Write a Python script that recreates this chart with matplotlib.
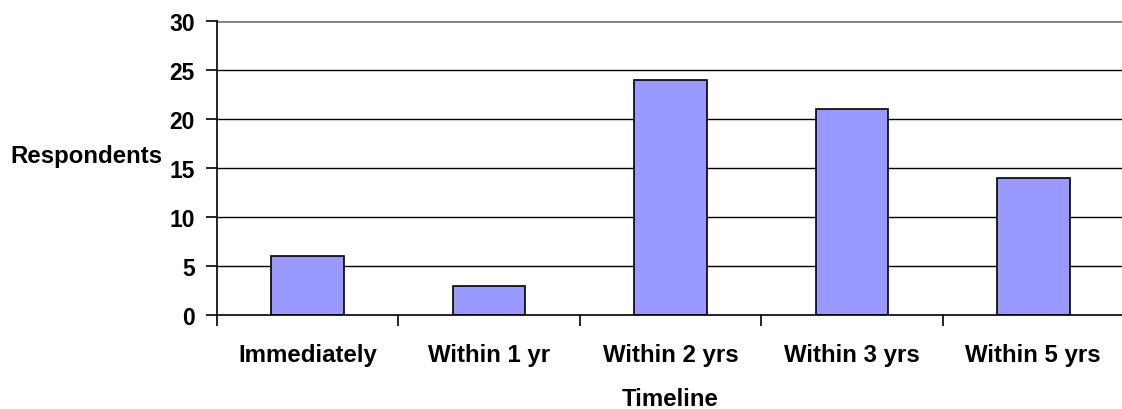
import matplotlib
matplotlib.use("Agg")
import matplotlib.pyplot as plt
from matplotlib.ticker import FixedLocator

categories = ["Immediately", "Within 1 yr", "Within 2 yrs", "Within 3 yrs", "Within 5 yrs"]
respondents = [6, 3, 24, 21, 14]
y_ticks = [0, 5, 10, 15, 20, 25, 30]

plt.rcParams["font.family"] = ["Liberation Sans", "DejaVu Sans"]
plt.rcParams["font.weight"] = "bold"
FS = 17.3
FS_Y = 16.5

W, H = 1122, 410
fig = plt.figure(figsize=(W / 100, H / 100), dpi=100)
left, right, top, bottom = 217, 1124, 22, 316
ax = fig.add_axes([left / W, (H - bottom) / H, (right - left) / W, (bottom - top) / H])

x = list(range(len(categories)))

# horizontal gridlines
for v in y_ticks[1:]:
    color = "#808080" if v == y_ticks[-1] else "black"
    lw = 2.0 if v == y_ticks[-1] else 1.0
    ax.axhline(v, color=color, lw=lw, zorder=1)

ax.bar(x, respondents, width=0.4, color="#9999FF", edgecolor="black", linewidth=1.2, zorder=2)

ax.set_xlim(-0.5, len(categories) - 0.5)
ax.set_ylim(0, 30)

for side in ("top", "right"):
    ax.spines[side].set_visible(False)
for side in ("left", "bottom"):
    ax.spines[side].set_color("black")
    ax.spines[side].set_linewidth(1.2)

ax.set_yticks(y_ticks)
ax.set_yticklabels([str(v) for v in y_ticks], fontsize=FS_Y, fontweight="bold")
ax.tick_params(axis="y", length=8, width=1.2, pad=8, direction="out")

ax.set_xticks(x)
ax.set_xticklabels(categories, fontsize=FS, fontweight="bold")
ax.tick_params(axis="x", which="major", length=0, pad=20)
ax.xaxis.set_minor_locator(FixedLocator([i - 0.5 for i in range(len(categories))]))
ax.tick_params(axis="x", which="minor", length=8, width=1.2, direction="out")

ax.set_xlabel("Timeline", fontsize=FS, fontweight="bold", labelpad=15)
ax.set_ylabel("Respondents", fontsize=FS, fontweight="bold", rotation=0, ha="right", va="center")
ax.yaxis.set_label_coords(-0.0606, 0.541)

fig.savefig("out.png", dpi=100, facecolor="white")
